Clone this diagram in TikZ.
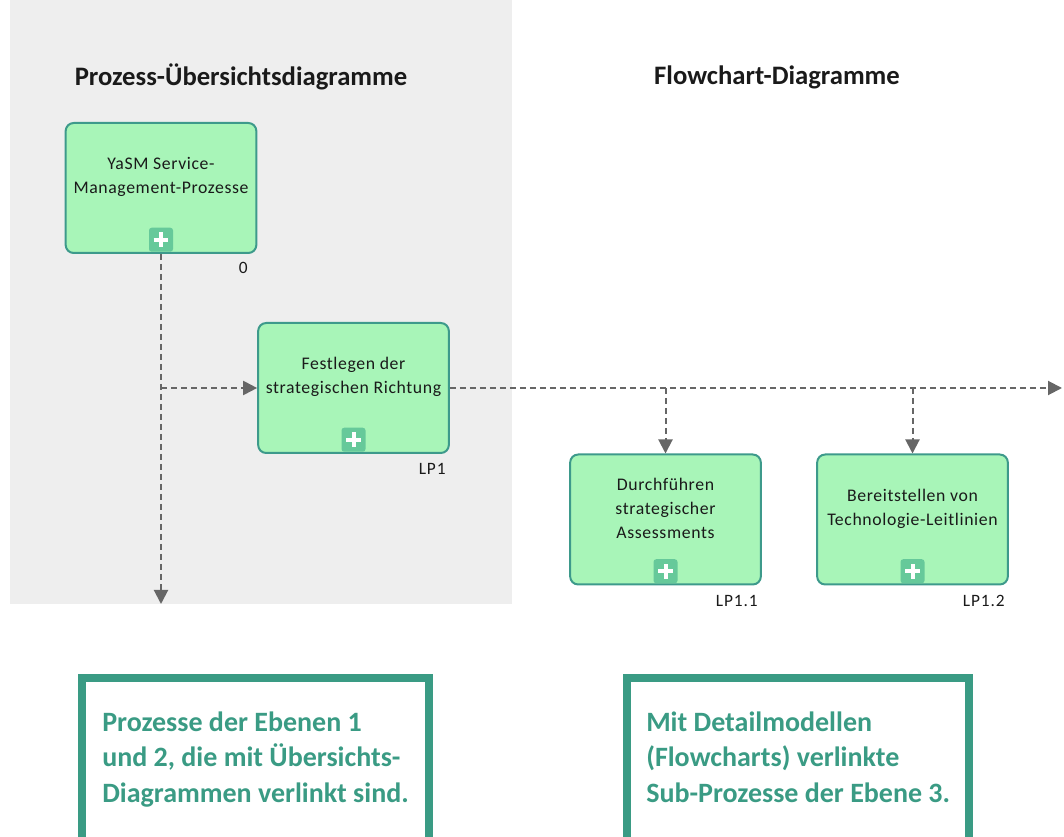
\documentclass[tikz,border=0pt]{standalone}
\usepackage{fontspec}
\setmainfont{Carlito}
\usetikzlibrary{arrows.meta,positioning}

\definecolor{procfill}{HTML}{A8F5B8}
\definecolor{procline}{HTML}{3D9A8B}
\definecolor{plusfill}{HTML}{66C99A}
\definecolor{panelgray}{HTML}{EEEEEE}
\definecolor{linkgray}{HTML}{666666}
\definecolor{noteteal}{HTML}{3A9B84}
\definecolor{darktext}{HTML}{1A1A1A}

\tikzset{
  procbox/.style={draw=procline, fill=procfill, line width=1.5pt,
    rounded corners=6pt, minimum width=143pt, minimum height=97.5pt, inner sep=0pt},
  proctext/.style={align=center, text=darktext, inner sep=0pt,
    font=\fontsize{13.3}{18}\selectfont\addfontfeatures{LetterSpace=3.5}},
  plusbox/.style={fill=plusfill, rounded corners=2pt, minimum size=18pt, inner sep=0pt,
    path picture={\draw[white, line width=3pt]
      ([xshift=-5.5pt]path picture bounding box.center) -- ([xshift=5.5pt]path picture bounding box.center)
      ([yshift=-5.5pt]path picture bounding box.center) -- ([yshift=5.5pt]path picture bounding box.center);}},
  numlabel/.style={anchor=north east, inner sep=0pt, text=darktext,
    font=\fontsize{13}{15}\selectfont\addfontfeatures{LetterSpace=5}},
  titletext/.style={font=\fontsize{20}{24}\selectfont\bfseries, text=darktext},
  link/.style={draw=linkgray, line width=1.5pt, dash pattern=on 4.5pt off 3pt},
  linkarrow/.style={link, -{Triangle[width=10.5pt,length=10.5pt]}},
  notebox/.style={draw=noteteal, line width=6pt},
  notetext/.style={anchor=north west, align=left, inner sep=0pt, text=noteteal,
    font=\fontsize{21}{26.3}\selectfont\bfseries}
}

\begin{document}
\begin{tikzpicture}[x=0.75pt, y=-0.75pt]
\useasboundingbox (0,0) rectangle (1064,837);
\clip (0,0) rectangle (1064,837);

% overview area
\fill[panelgray] (10,0) rectangle (512,604);

\node[titletext] (ttlover) at (241,77) {Prozess-Übersichtsdiagramme};
\node[titletext] (ttlflow) at (777,77) {Flowchart-Diagramme};

% processes
\node[procbox] (p0) at (161,188) {};
\node[proctext] at ([yshift=8pt]p0.center) {YaSM Service-\\Management-Prozesse};
\node[plusbox, anchor=south] (p0plus) at ([yshift=1.5pt]p0.south) {};
\node[numlabel] at ([xshift=-7pt,yshift=-6pt]p0.south east) {0};

\node[procbox] (p1) at (353.5,388) {};
\node[proctext] at ([yshift=8pt]p1.center) {Festlegen der\\strategischen Richtung};
\node[plusbox, anchor=south] (p1plus) at ([yshift=1.5pt]p1.south) {};
\node[numlabel] at ([xshift=-3pt,yshift=-7pt]p1.south east) {LP1};

\node[procbox] (p11) at (665.5,519.5) {};
\node[proctext] at ([yshift=8pt]p11.center) {Durchführen\\strategischer\\Assessments};
\node[plusbox, anchor=south] (p11plus) at ([yshift=1.5pt]p11.south) {};
\node[numlabel] at ([xshift=-3pt,yshift=-7pt]p11.south east) {LP1.1};

\node[procbox] (p12) at (912.5,519.5) {};
\node[proctext] at ([yshift=8pt]p12.center) {Bereitstellen von\\Technologie-Leitlinien};
\node[plusbox, anchor=south] (p12plus) at ([yshift=1.5pt]p12.south) {};
\node[numlabel] at ([xshift=-3pt,yshift=-7pt]p12.south east) {LP1.2};

% links
\coordinate (end0) at (161,604);
\coordinate (endR) at (1062,388);
\coordinate (j0) at (p0.south |- p1.west);
\draw[linkarrow] (p0.south) -- (end0);
\draw[linkarrow] (j0) -- (p1.west);
\draw[linkarrow] (p1.east) -- (endR);
\draw[linkarrow] (p11.north |- p1.east) -- (p11.north);
\draw[linkarrow] (p12.north |- p1.east) -- (p12.north);

% notes
\draw[notebox] (82,678) rectangle (429,870);
\node[notetext] (noteover) at (102,712)
  {Prozesse der Ebenen 1\\und 2, die mit Übersichts-\\Diagrammen verlinkt sind.};
\draw[notebox] (627,678) rectangle (969,870);
\node[notetext] (noteflow) at (646,712)
  {Mit Detailmodellen\\(Flowcharts) verlinkte\\Sub-Prozesse der Ebene 3.};
\end{tikzpicture}
\end{document}
